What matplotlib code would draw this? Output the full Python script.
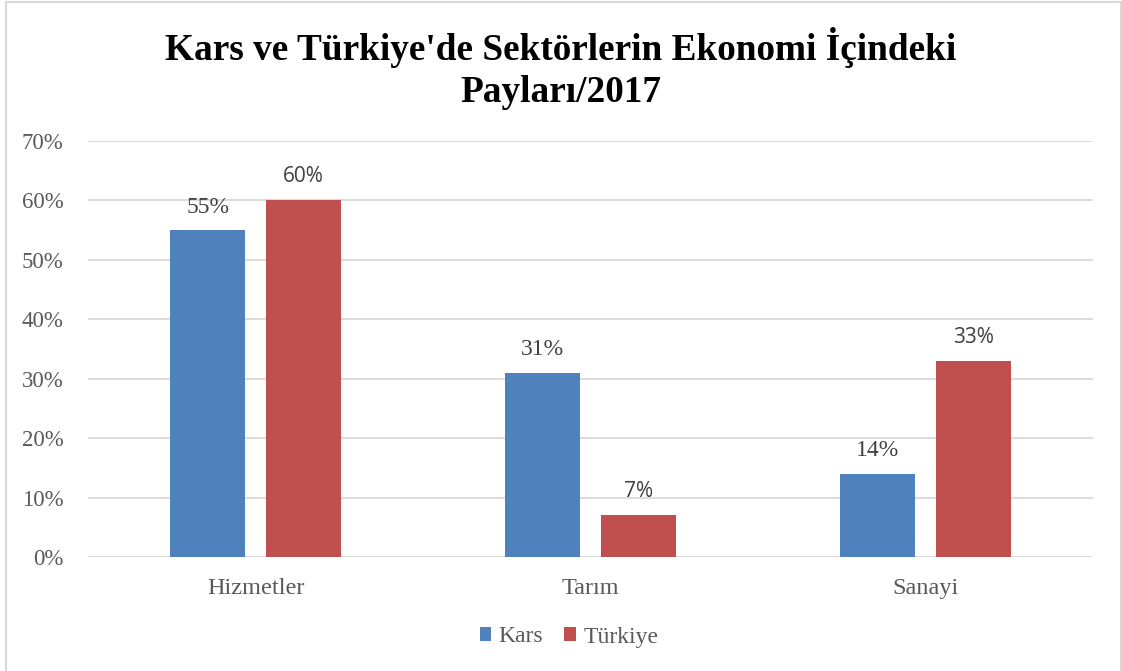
import matplotlib
matplotlib.use("Agg")
import matplotlib.pyplot as plt
import numpy as np
from matplotlib.lines import Line2D

categories = ["Hizmetler", "Tarım", "Sanayi"]
kars = [55, 31, 14]
turkiye = [60, 7, 33]
series_names = ["Kars", "Türkiye"]
yticks = [0, 10, 20, 30, 40, 50, 60, 70]

SERIF = "Liberation Serif"
SANS = "Open Sans"
TXT = "#595959"
BLUE = "#4F81BD"
RED = "#C0504D"

fig = plt.figure(figsize=(11.22, 6.71), dpi=100)
ax = fig.add_axes([88/1122, 1-557/671, 1005/1122, (557-141)/671])

x = np.arange(len(categories))
w = 0.224
off = 0.142
b1 = ax.bar(x - off, kars, w, color=BLUE, label=series_names[0], zorder=3)
b2 = ax.bar(x + off, turkiye, w, color=RED, label=series_names[1], zorder=3)

for rect, v in zip(b1, kars):
    ax.annotate(f"{v}%", (rect.get_x() + rect.get_width()/2, v), xytext=(0, 16.5),
                textcoords="offset points", ha="center", va="center",
                fontsize=17, color="#404040", family=SERIF)
for rect, v in zip(b2, turkiye):
    ax.annotate(f"{v}%", (rect.get_x() + rect.get_width()/2, v), xytext=(0, 17),
                textcoords="offset points", ha="center", va="center",
                fontsize=15, color="#404040", family=SANS)

ax.set_xlim(-0.5, 2.5)
ax.set_ylim(0, 70)
ax.set_yticks(yticks)
ax.set_yticklabels([f"{t}%" for t in yticks], family=SERIF, fontsize=16.5, color=TXT)
ax.set_xticks(x)
ax.set_xticklabels(categories, family=SERIF, fontsize=17.5, color=TXT)
ax.tick_params(axis="both", length=0)
ax.tick_params(axis="y", pad=17.5)
ax.tick_params(axis="x", pad=15)
ax.grid(axis="y", color="#D9D9D9", linewidth=1.3, zorder=0)
for s in ax.spines.values():
    s.set_visible(False)

fig.text(0.5, 1-47/671, "Kars ve Türkiye'de Sektörlerin Ekonomi İçindeki",
         ha="center", va="center", fontsize=26.8, fontweight="bold", family=SERIF, color="black")
fig.text(0.5, 1-92/671, "Payları/2017",
         ha="center", va="center", fontsize=26.8, fontweight="bold", family=SERIF, color="black")

leg = fig.legend(handles=[b1, b2], labels=series_names, loc="center",
                 bbox_to_anchor=(569/1122, 1-637/671), ncol=2, frameon=False,
                 prop={"family": SERIF, "size": 17}, handlelength=0.5, handleheight=0.5,
                 handletextpad=0.3, columnspacing=0.9, labelcolor=TXT)

# outer border (left, top, right)
border_kw = dict(color="#D9D9D9", linewidth=1.5, transform=fig.transFigure)
fig.add_artist(Line2D([5.5/1122, 5.5/1122], [0, 1-2/671], **border_kw))
fig.add_artist(Line2D([5.5/1122, 1120.5/1122], [1-2/671, 1-2/671], **border_kw))
fig.add_artist(Line2D([1120.5/1122, 1120.5/1122], [0, 1-2/671], **border_kw))

fig.savefig("out.png", dpi=100)
